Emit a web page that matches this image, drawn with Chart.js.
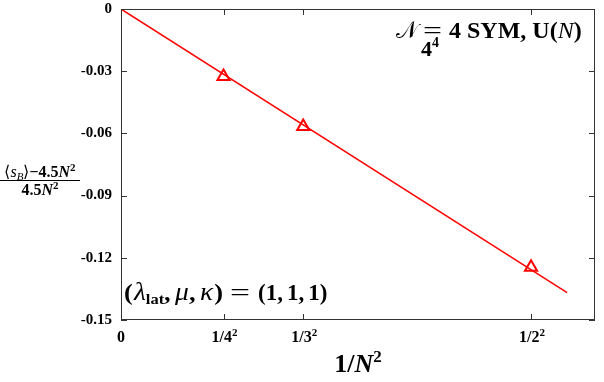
<!DOCTYPE html>
<html>
<head>
<meta charset="utf-8">
<script src="https://cdn.jsdelivr.net/npm/chart.js@4.4.0/dist/chart.umd.min.js"></script>
<style>
  html, body { margin: 0; padding: 0; background: #fff; }
  #wrap { width: 604px; height: 382px; }
</style>
</head>
<body>
<div id="wrap"><canvas id="myChart"></canvas></div>
<script>
// data
var xValues = [1/16, 1/9, 1/4];
var yValues = [-0.0325, -0.0567, -0.1245];
var fitX = [0, 0.272];
var fitY = [0, -0.1368];
var xTickValues = [0, 1/16, 1/9, 1/4];
var xTickBase = ["0", "1/4", "1/3", "1/2"];   // printed with a superscript 2 after all but the first
var yTickValues = [0, -0.03, -0.06, -0.09, -0.12, -0.15];
var yTickLabels = ["0", "-0.03", "-0.06", "-0.09", "-0.12", "-0.15"];

var SERIF = '"Liberation Serif", "Times New Roman", serif';

function drawRich(ctx, x, y, parts) {
  parts.forEach(function (p) {
    ctx.font = p[1];
    ctx.fillText(p[0], x, y + (p[2] || 0));
    x += ctx.measureText(p[0]).width + (p[3] || 0);
  });
  return x;
}
function richWidth(ctx, parts) {
  var w = 0;
  parts.forEach(function (p) { ctx.font = p[1]; w += ctx.measureText(p[0]).width + (p[3] || 0); });
  return w;
}
// rich text squeezed/stretched to a given width
function drawRichFit(ctx, x, y, w, parts) {
  var m = richWidth(ctx, parts);
  ctx.save();
  ctx.translate(x, y);
  ctx.scale(w / m, 1);
  drawRich(ctx, 0, 0, parts);
  ctx.restore();
}

// frame with inward ticks + text labels
var framePlugin = {
  id: "frame",
  afterDraw: function (chart) {
    var ctx = chart.ctx, a = chart.chartArea;
    var xs = chart.scales.x, ys = chart.scales.y;
    var L = Math.round(a.left), R = Math.round(a.right), T = Math.round(a.top), Bt = Math.round(a.bottom);
    ctx.save();
    ctx.fillStyle = "#333";
    ctx.fillRect(L, T, R - L, 1);
    ctx.fillRect(L, Bt - 1, R - L, 1);
    ctx.fillRect(L, T, 1, Bt - T);
    ctx.fillRect(R - 1, T, 1, Bt - T);
    xTickValues.forEach(function (v) {
      var px = Math.round(xs.getPixelForValue(v));
      ctx.fillRect(px, Bt - 6, 1, 6);
      ctx.fillRect(px, T, 1, 6);
    });
    yTickValues.forEach(function (v) {
      var py = Math.round(ys.getPixelForValue(v));
      ctx.fillRect(L, py, 6, 1);
      ctx.fillRect(R - 6, py, 6, 1);
    });

    ctx.fillStyle = "#000";
    ctx.textBaseline = "alphabetic";
    ctx.textAlign = "left";

    // x tick labels with real superscripts
    xTickValues.forEach(function (v, i) {
      var parts = [[xTickBase[i], "bold 16px " + SERIF]];
      if (i > 0) parts.push(["2", "bold 11px " + SERIF, -6]);
      var w = richWidth(ctx, parts);
      drawRich(ctx, xs.getPixelForValue(v) - w / 2 + (i > 0 ? 1 : 0), 342, parts);
    });

    var B24 = "bold 24px " + SERIF, I24 = "italic 24px " + SERIF, R24 = "24px " + SERIF;

    // top-right label
    drawRichFit(ctx, 396, 38, 22, [["\ud835\udca9", '24px "DejaVu Serif", ' + SERIF]]);
    drawRichFit(ctx, 423, 38, 19, [["=", R24]]);
    drawRich(ctx, 449, 38, [["4 SYM, U(", B24], ["N", I24], [")", B24]]);
    drawRich(ctx, 421, 56, [["4", "bold 22px " + SERIF], ["4", "bold 14px " + SERIF, -9]]);

    // lower-left label
    var B24b = "bold 24px " + SERIF, I25 = "italic 25px " + SERIF;
    drawRichFit(ctx, 124, 300, 99, [
      ["(", B24b, 0, 1], ["\u03bb", I25], ["lat", "bold 15px " + SERIF, 4], [",", B24b, 0, 4],
      ["\u03bc", I25], [",", B24b, 0, 4], ["\u03ba", I25, 0, 1], [")", B24b]
    ]);
    drawRichFit(ctx, 230, 300, 20, [["=", "23px " + SERIF]]);
    drawRich(ctx, 258, 300, [["(1,", "bold 23px " + SERIF, 0, 4], ["1,", "bold 23px " + SERIF, 0, 4], ["1)", "bold 23px " + SERIF]]);

    // y title as fraction
    var num = [
      ["\u27e8", "16px " + SERIF], ["s", "italic 16px " + SERIF], ["B", "italic 11px " + SERIF, 3],
      ["\u27e9", "16px " + SERIF], ["\u22124.5", "bold 16px " + SERIF],
      ["N", "bold italic 16px " + SERIF], ["2", "bold 11px " + SERIF, -6]
    ];
    var den = [["4.5", "bold 16px " + SERIF], ["N", "bold italic 16px " + SERIF], ["2", "bold 11px " + SERIF, -6]];
    var wn = richWidth(ctx, num), wd = richWidth(ctx, den);
    drawRich(ctx, 40 - wn / 2, 177, num);
    drawRich(ctx, 40 - wd / 2, 195, den);
    ctx.fillRect(0, 180, 80, 1);

    // x title
    var xt = [["1/", "bold 26px " + SERIF], ["N", "bold italic 26px " + SERIF], ["2", "bold 17px " + SERIF, -10]];
    drawRich(ctx, 358 - richWidth(ctx, xt) / 2, 372, xt);
    ctx.restore();
  }
};

var points = xValues.map(function (v, i) { return { x: v, y: yValues[i] }; });
var fit = fitX.map(function (v, i) { return { x: v, y: fitY[i] }; });

new Chart("myChart", {
  type: "scatter",
  data: {
    datasets: [{
      data: fit,
      showLine: true,
      borderColor: "#ff0000",
      borderWidth: 1.5,
      pointRadius: 0
    }, {
      data: points,
      showLine: false,
      pointStyle: "triangle",
      pointRadius: 7,
      borderWidth: 2,
      borderColor: "#ff0000",
      backgroundColor: "rgba(0,0,0,0)"
    }]
  },
  options: {
    responsive: true,
    maintainAspectRatio: false,
    animation: false,
    events: [],
    layout: { padding: { top: 8, right: 7, left: 0, bottom: 0 } },
    plugins: { legend: { display: false }, tooltip: { enabled: false } },
    scales: {
      x: {
        type: "linear",
        min: 0,
        max: 0.289,
        grid: { display: false, drawTicks: false },
        border: { display: false },
        afterBuildTicks: function (scale) {
          scale.ticks = xTickValues.map(function (v) { return { value: v }; });
        },
        afterFit: function (scale) {
          scale.height = 62;
          scale.paddingLeft = 0;
          scale.paddingRight = 0;
        },
        ticks: { display: false }
      },
      y: {
        min: -0.15,
        max: 0,
        grid: { display: false, drawTicks: false },
        border: { display: false },
        afterBuildTicks: function (scale) {
          scale.ticks = yTickValues.map(function (v) { return { value: v }; });
        },
        afterFit: function (scale) {
          scale.width = 121;
          scale.paddingTop = 0;
          scale.paddingBottom = 0;
        },
        ticks: {
          padding: 9,
          color: "#000",
          font: { family: SERIF, size: 15, weight: "bold" },
          callback: function (v, i) { return yTickLabels[i]; }
        }
      }
    }
  },
  plugins: [framePlugin]
});
</script>
</body>
</html>
